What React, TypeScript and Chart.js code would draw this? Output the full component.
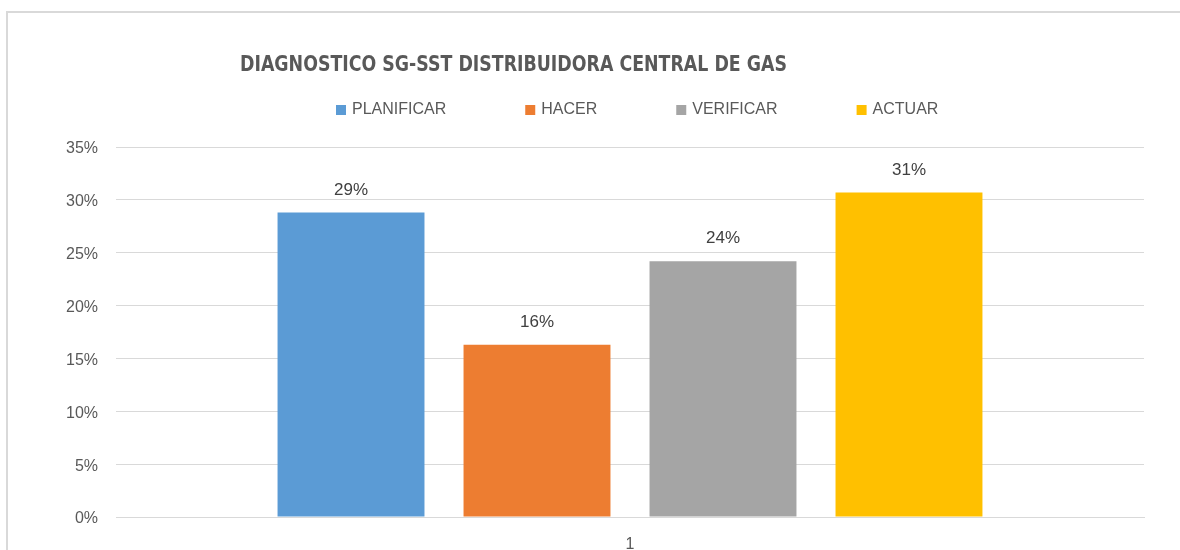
import React, { useEffect, useRef } from "react";
import { Chart, registerables } from "chart.js";

Chart.register(...registerables);

const categories = ["1"];
const seriesNames = ["PLANIFICAR", "HACER", "VERIFICAR", "ACTUAR"];
const seriesValues = [0.288, 0.163, 0.242, 0.307];
const seriesColors = ["#5B9BD5", "#ED7D31", "#A5A5A5", "#FFC000"];
const yTickValues = [0, 0.05, 0.1, 0.15, 0.2, 0.25, 0.3, 0.35];
const titleText = "DIAGNOSTICO SG-SST DISTRIBUIDORA CENTRAL DE GAS";

const FONT = '"Liberation Sans", Arial, sans-serif';
const TITLE_FONT = '"DejaVu Sans Condensed", "Liberation Sans", sans-serif';

const headerPlugin = {
  id: "header",
  afterDraw(chart: any) {
    const ctx = chart.ctx;
    ctx.save();
    // title
    ctx.fillStyle = "#595959";
    ctx.font = `bold 22px ${TITLE_FONT}`;
    ctx.textAlign = "left";
    ctx.textBaseline = "alphabetic";
    ctx.fillText(titleText, 240, 71, 547);
    // legend
    ctx.font = `16px ${FONT}`;
    ctx.textBaseline = "middle";
    let x = 336;
    const y = 110;
    seriesNames.forEach((name, i) => {
      ctx.fillStyle = seriesColors[i];
      ctx.fillRect(x, y - 5, 10, 10);
      ctx.fillStyle = "#595959";
      ctx.fillText(name, x + 16, y);
      x += 16 + ctx.measureText(name).width + 79;
    });
    ctx.restore();
  },
};

const valueLabelPlugin = {
  id: "valueLabels",
  afterDatasetsDraw(chart: any) {
    const ctx = chart.ctx;
    ctx.save();
    ctx.font = `17px ${FONT}`;
    ctx.fillStyle = "#404040";
    ctx.textAlign = "center";
    ctx.textBaseline = "bottom";
    chart.data.datasets.forEach((ds: any, di: number) => {
      const meta = chart.getDatasetMeta(di);
      meta.data.forEach((bar: any, i: number) => {
        const v = ds.data[i];
        ctx.fillText(Math.round(v * 100) + "%", bar.x, bar.y - 14);
      });
    });
    ctx.restore();
  },
};

export default function App() {
  const ref = useRef<HTMLCanvasElement | null>(null);
  useEffect(() => {
    if (!ref.current) return;
    const chart = new Chart(ref.current, {
      type: "bar",
      data: {
        labels: categories,
        datasets: seriesNames.map((name, i) => ({
          label: name,
          data: [seriesValues[i]],
          backgroundColor: seriesColors[i],
          borderWidth: 0,
          categoryPercentage: 0.7237,
          barPercentage: 0.79,
        })),
      },
      options: {
        animation: false,
        responsive: false,
        maintainAspectRatio: false,
        layout: { padding: { left: 0, right: 36, top: 147, bottom: 0 } },
        plugins: {
          legend: { display: false },
          title: { display: false },
          tooltip: { enabled: false },
        },
        scales: {
          x: {
            grid: { display: false, drawTicks: false },
            border: { display: true, color: "#d9d9d9", width: 1 },
            ticks: { color: "#595959", font: { family: FONT, size: 16 }, padding: 18 },
            afterFit(scale: any) {
              scale.height = 33;
            },
          },
          y: {
            min: 0,
            max: 0.35,
            afterBuildTicks(scale: any) {
              scale.ticks = yTickValues.map((v) => ({ value: v }));
            },
            grid: { color: "#d9d9d9", drawTicks: false },
            border: { display: false },
            ticks: {
              color: "#595959",
              font: { family: FONT, size: 16 },
              padding: 18,
              labelOffset: 2,
              callback: (v: any) => Math.round(Number(v) * 100) + "%",
            },
            afterFit(scale: any) {
              scale.width = 116;
            },
          },
        },
      },
      plugins: [headerPlugin, valueLabelPlugin],
    });
    return () => chart.destroy();
  }, []);

  return (
    <div>
      <div
        style={{
          position: "absolute",
          left: 6,
          top: 11,
          width: 1174,
          height: 539,
          boxSizing: "border-box",
          borderTop: "2px solid #d9d9d9",
          borderLeft: "2px solid #d9d9d9",
          background: "#fff",
        }}
      />
      <canvas
        ref={ref}
        width={1180}
        height={550}
        style={{ position: "absolute", left: 0, top: 0, width: 1180, height: 550 }}
      />
    </div>
  );
}
